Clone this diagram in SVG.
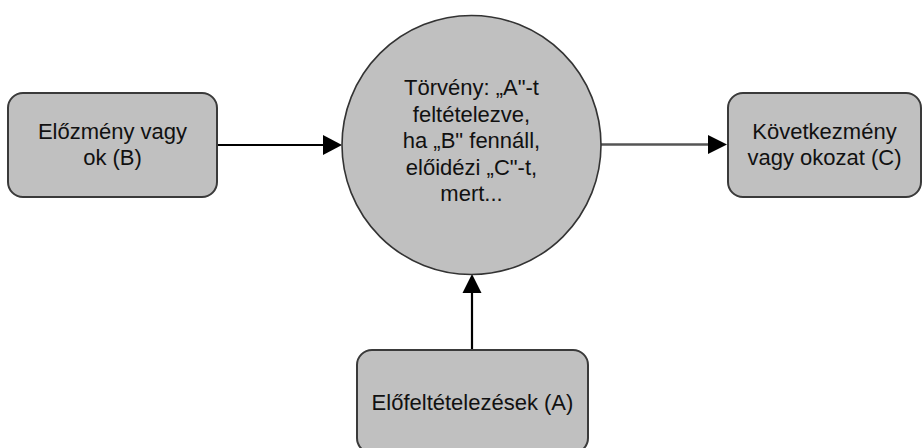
<svg xmlns="http://www.w3.org/2000/svg" width="924" height="448" viewBox="0 0 924 448">
<style>
.box{fill:#c0c0c0;stroke:#3a3a3a;stroke-width:2}
.circ{fill:#c0c0c0;stroke:#333;stroke-width:1.6}
.t{font-family:"Liberation Sans",Arial,sans-serif;font-size:22px;fill:#111;text-anchor:middle}
.ln{fill:none;stroke:#000;stroke-width:2.2}
.ln2{fill:none;stroke:#555;stroke-width:2.6}
.ah{fill:#000}
</style>
<rect width="924" height="448" fill="#fff"/>
<g id="connectors">
<line class="ln" x1="217" y1="145" x2="325" y2="145"/>
<polygon class="ah" points="342,145 323,135 323,155"/>
<line class="ln2" x1="601" y1="144.5" x2="711" y2="144.5"/>
<polygon class="ah" points="727,144.5 708,135 708,154"/>
<line class="ln" x1="472" y1="350" x2="472" y2="290"/>
<polygon class="ah" points="472,274 462.5,293 481.5,293"/>
</g>
<g id="law">
<circle class="circ" cx="471.5" cy="145" r="129.5"/>
<text class="t" x="471.5" y="95">Törvény: „A"-t</text>
<text class="t" x="471.5" y="121.5">feltételezve,</text>
<text class="t" x="471.5" y="148">ha „B" fennáll,</text>
<text class="t" x="471.5" y="174.5">előidézi „C"-t,</text>
<text class="t" x="471.5" y="201">mert...</text>
</g>
<g id="cause">
<rect class="box" x="8" y="93" width="209" height="104" rx="15"/>
<text class="t" x="112.5" y="138.5">Előzmény vagy</text>
<text class="t" x="112.5" y="165">ok (B)</text>
</g>
<g id="effect">
<rect class="box" x="728" y="93" width="193" height="104" rx="15"/>
<text class="t" x="824.5" y="138.5">Következmény</text>
<text class="t" x="824.5" y="165">vagy okozat (C)</text>
</g>
<g id="assumptions">
<rect class="box" x="357" y="350" width="231" height="103" rx="15"/>
<text class="t" x="472.5" y="410">Előfeltételezések (A)</text>
</g>
</svg>
